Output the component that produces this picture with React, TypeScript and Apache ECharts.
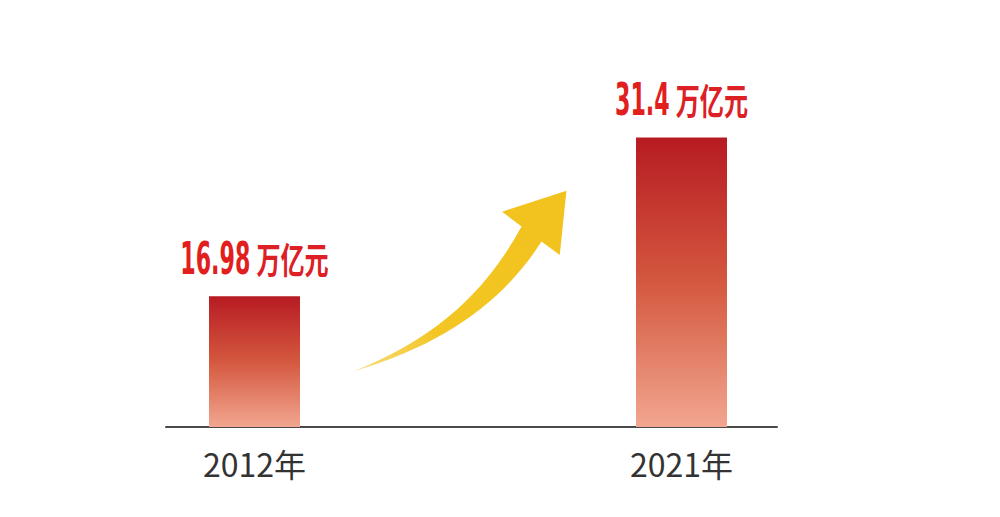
import React, { useEffect, useRef } from "react";
import * as echarts from "echarts";

const categories = ["2012年", "2021年"];
const values = [16.98, 31.4];
const unitText = "万亿元";

const ARROW_D =
  "M 40 605 C 250 520 420 400 545 170 L 487 125 L 680 62 L 660 255 L 605 215 C 500 380 330 520 40 605 Z";

const NUM_FAMILY = '"DejaVu Sans Condensed", "DejaVu Sans", sans-serif';
const UNIT_FAMILY = '"Noto Sans CJK SC", sans-serif';
const NUM_SIZE = 44;
const UNIT_SIZE = 36;
const NUM_SX = 0.56;
const UNIT_SX = 0.67;
const LABEL_RED = "#E11F1E";

let registered = false;

function measure(text: string, font: string): number {
  const c = document.createElement("canvas");
  const ctx = c.getContext("2d");
  if (!ctx) return text.length * 20;
  ctx.font = font;
  return ctx.measureText(text).width;
}

export default function App() {
  const ref = useRef<HTMLDivElement>(null);

  useEffect(() => {
    if (!ref.current) return;
    if (!registered) {
      echarts.graphic.registerShape("arrowShape", echarts.graphic.extendPath(ARROW_D as any, {}) as any);
      registered = true;
    }
    const chart = echarts.init(ref.current, null, { renderer: "svg" });

    const option: any = {
      animation: false,
      backgroundColor: "#ffffff",
      grid: [
        { left: 41, right: 105, top: 43, bottom: 90 },
        { left: 166, right: 223, top: 43, bottom: 90 },
      ],
      xAxis: [
        {
          type: "category",
          gridIndex: 0,
          data: categories,
          axisLine: { show: false },
          axisTick: { show: false },
          axisLabel: {
            color: "#333333",
            fontSize: 32,
            fontFamily: UNIT_FAMILY,
            margin: 20,
          },
        },
        {
          type: "value",
          gridIndex: 1,
          min: 0,
          max: 1,
          axisLine: { show: true, onZero: false, lineStyle: { color: "#4a4a4a", width: 2 } },
          axisTick: { show: false },
          axisLabel: { show: false },
          splitLine: { show: false },
        },
      ],
      yAxis: [
        { type: "value", gridIndex: 0, min: 5.1, max: 40, show: false },
        { type: "value", gridIndex: 1, min: 0, max: 1, show: false },
      ],
      graphic: [
        {
          type: "arrowShape",
          x: 340,
          y: 170,
          scaleX: 1 / 3,
          scaleY: 1 / 3,
          z: 10,
          style: {
            fill: new echarts.graphic.LinearGradient(0, 1, 1, 0, [
              { offset: 0, color: "#F7DC7E" },
              { offset: 0.3, color: "#F3C623" },
              { offset: 1, color: "#F2C21D" },
            ]),
          },
        },
      ],
      series: [
        {
          type: "bar",
          xAxisIndex: 0,
          yAxisIndex: 0,
          barWidth: 91,
          data: values,
          itemStyle: {
            color: new echarts.graphic.LinearGradient(0, 0, 0, 1, [
              { offset: 0, color: "#B71B22" },
              { offset: 0.5, color: "#D4583F" },
              { offset: 1, color: "#F2A690" },
            ]),
          },
        },
        {
          type: "custom",
          xAxisIndex: 0,
          yAxisIndex: 0,
          data: values.map((v, i) => [i, v]),
          encode: { x: 0, y: 1 },
          z: 5,
          renderItem: (params: any, api: any) => {
            const idx = api.value(0);
            const v = api.value(1);
            const p = api.coord([idx, v]);
            const numText = String(values[params.dataIndex]);
            const wN = measure(numText, `bold ${NUM_SIZE}px ${NUM_FAMILY}`) * NUM_SX;
            const wU = measure(unitText, `bold ${UNIT_SIZE}px ${UNIT_FAMILY}`) * UNIT_SX;
            const gap = 6;
            const total = wN + gap + wU;
            const start = -total / 2;
            const ty = -38;
            return {
              type: "group",
              x: p[0],
              y: p[1],
              children: [
                {
                  type: "text",
                  x: start + wN,
                  y: ty,
                  scaleX: NUM_SX,
                  style: {
                    text: numText,
                    fill: LABEL_RED,
                    fontSize: NUM_SIZE,
                    fontWeight: "bold",
                    fontFamily: NUM_FAMILY,
                    align: "right",
                    verticalAlign: "middle",
                  },
                },
                {
                  type: "text",
                  x: start + wN + gap,
                  y: ty,
                  scaleX: UNIT_SX,
                  style: {
                    text: unitText,
                    fill: "#DC2026",
                    fontSize: UNIT_SIZE,
                    fontWeight: "bold",
                    fontFamily: UNIT_FAMILY,
                    align: "left",
                    verticalAlign: "middle",
                  },
                },
              ],
            };
          },
        },
      ],
    };

    chart.setOption(option);
    return () => chart.dispose();
  }, []);

  return (
    <div
      ref={ref}
      style={{ position: "fixed", left: 0, top: 0, width: 1000, height: 517 }}
    />
  );
}
